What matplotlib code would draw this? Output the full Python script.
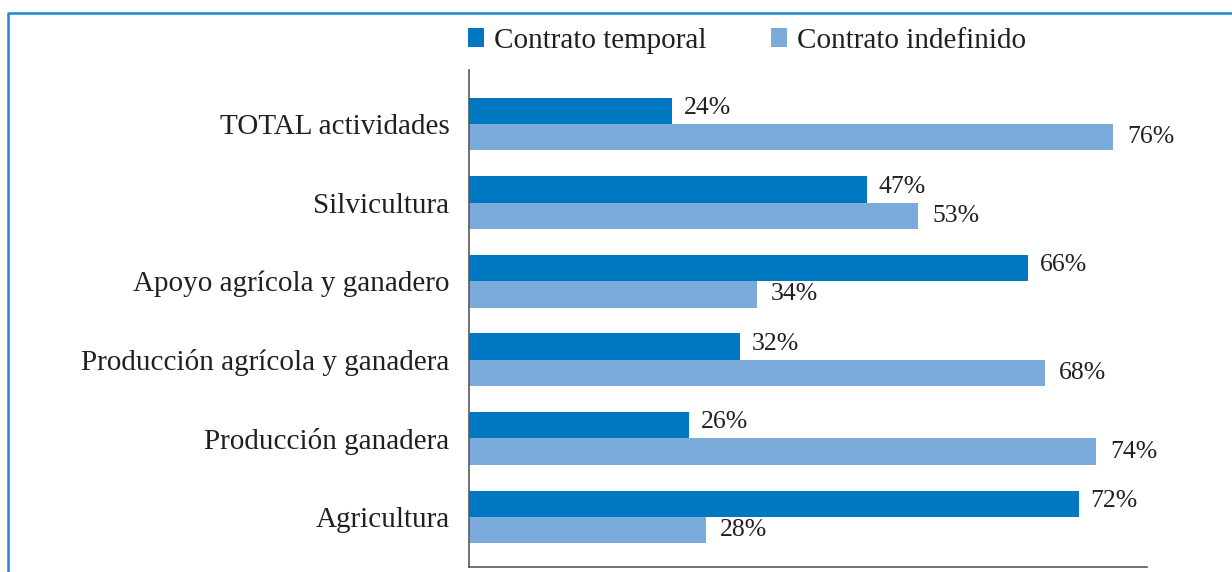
import matplotlib.pyplot as plt
from matplotlib.lines import Line2D
from matplotlib.patches import Patch

categories = [
    "Agricultura",
    "Producción ganadera",
    "Producción agrícola y ganadera",
    "Apoyo agrícola y ganadero",
    "Silvicultura",
    "TOTAL actividades",
]
temporal = [72, 26, 32, 66, 47, 24]
indefinido = [28, 74, 68, 34, 53, 76]

series_names = ["Contrato temporal", "Contrato indefinido"]
DARK = "#0078C1"
LIGHT = "#7BABDB"
FRAME = "#2088D6"
TEXT = "#231F20"

plt.rcParams["font.family"] = ["Liberation Serif", "DejaVu Serif"]

fig = plt.figure(figsize=(12.32, 5.72), dpi=100)
ax = fig.add_axes([469 / 1232, 5 / 572, (1147 - 469) / 1232, (567 - 70) / 572])

bar_h = 0.337
pos = list(range(len(categories)))
ax.barh([p + bar_h / 2 for p in pos], temporal, height=bar_h, color=DARK)
ax.barh([p - bar_h / 2 for p in pos], indefinido, height=bar_h, color=LIGHT)

for p, t, i in zip(pos, temporal, indefinido):
    ax.annotate(f"{t}%", (t, p + bar_h / 2), xytext=(8, 2),
                textcoords="offset points", va="center", ha="left",
                fontsize=18.5, color=TEXT)
    ax.annotate(f"{i}%", (i, p - bar_h / 2), xytext=(10, 0),
                textcoords="offset points", va="center", ha="left",
                fontsize=18.5, color=TEXT)

ax.set_xlim(0, 80)
ax.set_ylim(-0.636, 5.687)
ax.set_yticks(pos)
ax.set_yticklabels(categories, fontsize=21, color=TEXT)
ax.tick_params(axis="y", length=0, pad=14)
ax.set_xticks([])
for side in ["top", "right"]:
    ax.spines[side].set_visible(False)
for side in ["left", "bottom"]:
    ax.spines[side].set_color("#595959")
    ax.spines[side].set_linewidth(1.2)

handles = [Patch(facecolor=DARK), Patch(facecolor=LIGHT)]
fig.legend(handles, series_names, loc="center", bbox_to_anchor=(747 / 1232, 1 - 41 / 572),
           ncol=2, frameon=False, fontsize=21, handlelength=0.55, handleheight=0.6,
           handletextpad=0.35, columnspacing=2.2, labelcolor=TEXT,
           borderpad=0, borderaxespad=0)

# frame line at top and left
fig.add_artist(Line2D([8 / 1232, 8 / 1232, 1], [0, 1 - 13 / 572, 1 - 13 / 572],
                      transform=fig.transFigure, color=FRAME, linewidth=1.8))

fig.savefig("out.png", dpi=100)
